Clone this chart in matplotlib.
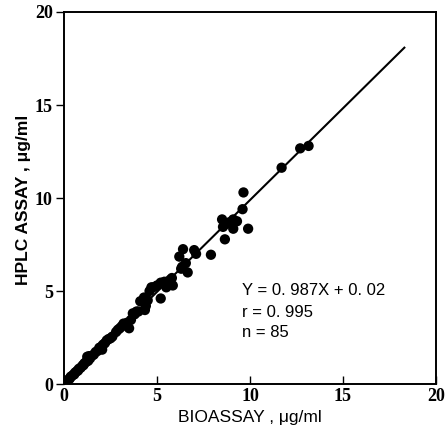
import numpy as np
import matplotlib.pyplot as plt

# bioassay (x) vs HPLC assay (y), ug/ml
bio = [0.15, 0.2, 0.3, 0.35, 0.4, 0.5, 0.55, 0.6, 0.7, 0.75, 0.8, 0.9, 1.0, 1.05,
       1.1, 1.2, 1.25, 1.3, 1.35, 1.4, 1.5, 1.6, 1.7, 1.8, 1.9, 2.0, 2.05, 2.1,
       2.2, 2.3, 2.4, 2.5, 2.6, 2.8, 2.9, 3.0, 3.1, 3.2, 3.3, 3.4, 3.5, 3.6,
       3.7, 3.8, 3.9,
       4.0, 4.1, 4.3, 4.35, 4.4, 4.5, 4.6, 4.7, 4.8, 5.0, 5.2, 5.2, 5.4, 5.5,
       5.7, 5.8, 5.85,
       6.2, 6.3, 6.35, 6.4, 6.55, 6.65, 7.0, 7.1, 7.9,
       8.5, 8.55, 8.65, 8.7, 8.9, 9.1, 9.1, 9.3, 9.6, 9.65, 9.9,
       11.7, 12.7, 13.15]
hplc = [0.15, 0.22, 0.28, 0.38, 0.42, 0.5, 0.52, 0.62, 0.7, 0.72, 0.82, 0.88, 1.0, 1.02,
        1.12, 1.2, 1.47, 1.25, 1.5, 1.38, 1.52, 1.58, 1.72, 1.78, 1.95, 2.0, 1.85, 2.12,
        2.2, 2.35, 2.42, 2.46, 2.55, 2.8, 2.92, 3.0, 3.1, 3.25, 3.2, 3.3, 3.0, 3.45,
        3.8, 3.75, 3.9,
        3.9, 4.45, 4.65, 3.98, 4.2, 4.5, 5.0, 5.2, 5.2, 5.3, 4.6, 5.45, 5.5, 5.2,
        5.6, 5.7, 5.3,
        6.85, 6.2, 6.3, 7.25, 6.5, 6.0, 7.2, 7.0, 6.95,
        8.85, 8.45, 7.78, 8.6, 8.7, 8.85, 8.35, 8.75, 9.4, 10.3, 8.35,
        11.63, 12.67, 12.8]

slope = 0.987
intercept = 0.02
fit_x = [0, 18.3]

fig = plt.figure(figsize=(4.46, 4.44), dpi=100)
ax = fig.add_axes([0.1435, 0.135, 0.834, 0.838])

ax.plot(fit_x, [slope * v + intercept for v in fit_x], color='black', lw=1.5)
ax.scatter(bio, hplc, s=55, color='black', zorder=3, edgecolors='none')

ax.set_xlim(0, 20)
ax.set_ylim(0, 20)
ax.set_xticks([0, 5, 10, 15, 20])
ax.set_yticks([0, 5, 10, 15, 20])
ax.tick_params(axis='x', direction='in', length=6, width=1, pad=3)
ax.tick_params(axis='y', direction='out', length=6, width=1, pad=2)
for lab in ax.get_xticklabels() + ax.get_yticklabels():
    lab.set_fontfamily('Liberation Serif')
    lab.set_fontweight('bold')
    lab.set_fontsize(13)
for s in ax.spines.values():
    s.set_linewidth(1.4)

ax.set_xlabel('BIOASSAY , \u03bcg/ml', fontfamily='Liberation Sans', fontsize=12.5)
ax.set_ylabel('HPLC ASSAY , \u03bcg/ml', fontfamily='Liberation Sans', fontsize=12.5,
              fontweight='bold')
ax.xaxis.set_label_coords(0.5, -0.07)
ax.yaxis.set_label_coords(-0.09, 0.495)

ax.text(9.57, 5.05, 'Y = 0. 987X + 0. 02', fontfamily='Liberation Sans', fontsize=12, va='center')
ax.text(9.57, 3.85, 'r = 0. 995', fontfamily='Liberation Sans', fontsize=12, va='center')
ax.text(9.57, 2.75, 'n = 85', fontfamily='Liberation Sans', fontsize=12, va='center')

fig.savefig('out.png', dpi=100)
